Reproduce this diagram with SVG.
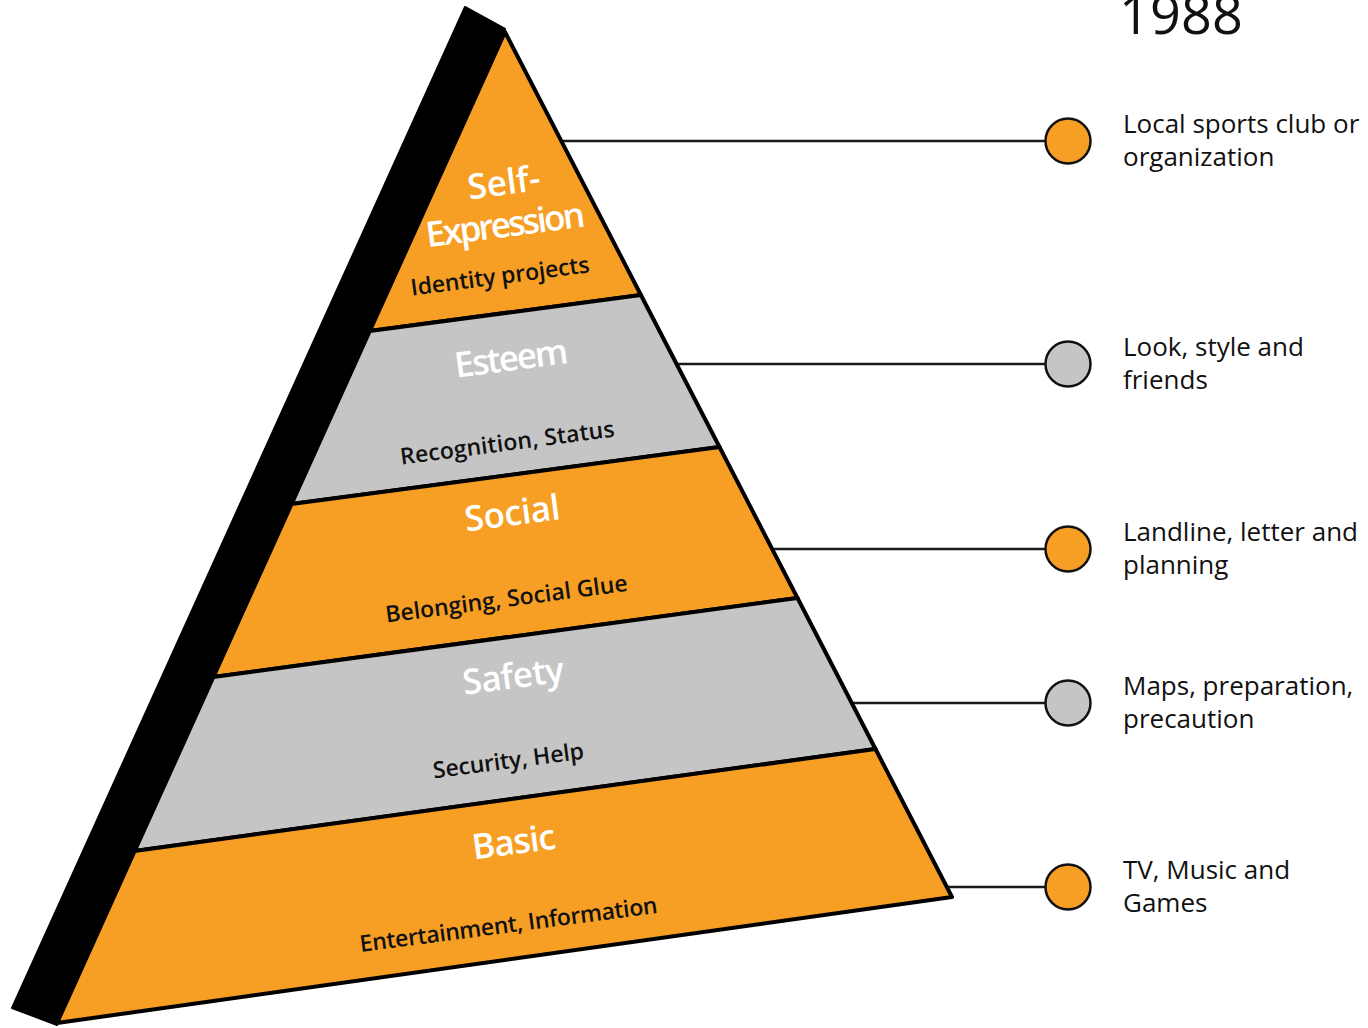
<svg xmlns="http://www.w3.org/2000/svg" width="1368" height="1028" viewBox="0 0 1368 1028">
  <style>
    .band { stroke: #000; stroke-width: 4; stroke-linejoin: round; }
    .orange { fill: #F69F24; }
    .grey { fill: #C5C5C5; }
    .title { font-family: "Open Sans", "Noto Sans", sans-serif; font-size: 35px; font-weight: 600; fill: #fff; text-anchor: middle; }
    .sub { font-family: "Open Sans", "Noto Sans", sans-serif; font-size: 23px; font-weight: 600; fill: #111; text-anchor: middle; }
    .conn { stroke: #1a1a1a; stroke-width: 2.5; fill: none; }
    .dot { stroke: #111; stroke-width: 2.5; }
    .label { font-family: "Open Sans", "Noto Sans", sans-serif; font-size: 26px; fill: #111; }
    .year { font-family: "Open Sans", "Noto Sans", sans-serif; font-size: 54px; fill: #111; }
  </style>

  <!-- year heading -->
  <text class="year" x="1119" y="34" textLength="124">1988</text>

  <!-- dark side face of the pyramid -->
  <polygon id="pyramid-side" points="465,7 505,29 57,1025 12,1008" fill="#000" stroke="#000" stroke-width="2" stroke-linejoin="round"/>

  <!-- connectors from each level to its marker -->
  <g id="connectors">
    <line class="conn" x1="561" y1="141" x2="1046" y2="141"/>
    <line class="conn" x1="676" y1="364" x2="1046" y2="364"/>
    <line class="conn" x1="772" y1="549" x2="1046" y2="549"/>
    <line class="conn" x1="851" y1="703" x2="1046" y2="703"/>
    <line class="conn" x1="946" y1="887" x2="1046" y2="887"/>
  </g>

  <!-- pyramid levels -->
  <g id="level-self-expression">
    <polygon class="band orange" points="505,32 640.9,295 369.8,331"/>
    <g transform="rotate(-7.5 505 230)">
      <text class="title" x="510" y="195" textLength="73">Self-</text>
      <text class="title" x="506" y="237" textLength="160">Expression</text>
      <text class="sub" x="494" y="283" textLength="180">Identity projects</text>
    </g>
  </g>

  <g id="level-esteem">
    <polygon class="band grey" points="369.8,331 640.9,295 719.5,447 291.6,504"/>
    <g transform="rotate(-7.5 510 410)">
      <text class="title" x="518" y="371" textLength="114">Esteem</text>
      <text class="sub" x="503" y="450" textLength="216">Recognition, Status</text>
    </g>
  </g>

  <g id="level-social">
    <polygon class="band orange" points="291.6,504 719.5,447 797.5,598 213.4,677"/>
    <g transform="rotate(-7.5 510 565)">
      <text class="title" x="519" y="526" textLength="96">Social</text>
      <text class="sub" x="502" y="606" textLength="244">Belonging, Social Glue</text>
    </g>
  </g>

  <g id="level-safety">
    <polygon class="band grey" points="213.4,677 797.5,598 875.5,749 134.7,851"/>
    <g transform="rotate(-7.5 510 720)">
      <text class="title" x="519" y="689" textLength="102">Safety</text>
      <text class="sub" x="503" y="768" textLength="152">Security, Help</text>
    </g>
  </g>

  <g id="level-basic">
    <polygon class="band orange" points="134.7,851 875.5,749 952,897 57,1023"/>
    <g transform="rotate(-7.5 510 890)">
      <text class="title" x="520" y="855" textLength="84">Basic</text>
      <text class="sub" x="504" y="932" textLength="300">Entertainment, Information</text>
    </g>
  </g>

  <!-- markers and their labels -->
  <g id="item-sports-club">
    <circle class="dot orange" cx="1068" cy="141" r="22.5"/>
    <text class="label" x="1123" y="133">Local sports club or</text>
    <text class="label" x="1123" y="166">organization</text>
  </g>
  <g id="item-look-style">
    <circle class="dot grey" cx="1068" cy="364" r="22.5"/>
    <text class="label" x="1123" y="356">Look, style and</text>
    <text class="label" x="1123" y="389">friends</text>
  </g>
  <g id="item-landline">
    <circle class="dot orange" cx="1068" cy="549" r="22.5"/>
    <text class="label" x="1123" y="541">Landline, letter and</text>
    <text class="label" x="1123" y="574">planning</text>
  </g>
  <g id="item-maps">
    <circle class="dot grey" cx="1068" cy="703" r="22.5"/>
    <text class="label" x="1123" y="695">Maps, preparation,</text>
    <text class="label" x="1123" y="728">precaution</text>
  </g>
  <g id="item-tv">
    <circle class="dot orange" cx="1068" cy="887" r="22.5"/>
    <text class="label" x="1123" y="879">TV, Music and</text>
    <text class="label" x="1123" y="912">Games</text>
  </g>
</svg>
